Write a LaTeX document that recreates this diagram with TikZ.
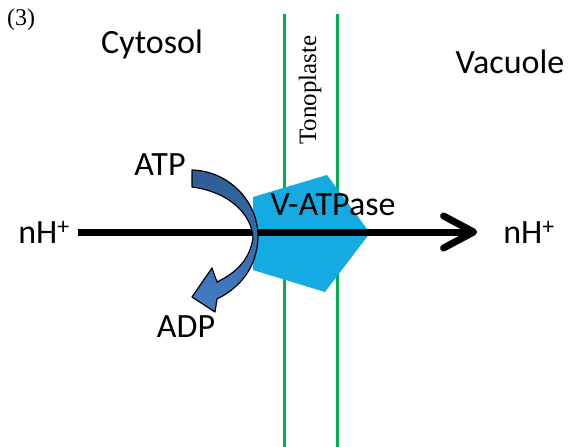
\documentclass[tikz,border=0pt]{standalone}
\usepackage{fontspec}
\setmainfont{Carlito}
\newfontfamily\timesfont{Liberation Serif}
\usetikzlibrary{arrows.meta,positioning}
\definecolor{membranegreen}{RGB}{0,176,80}
\definecolor{pumpblue}{RGB}{22,170,226}
\definecolor{arrowdark}{RGB}{46,92,148}
\definecolor{arrowlight}{RGB}{68,124,196}
\tikzset{
  side label/.style={font=\fontsize{34}{40}\selectfont,inner sep=0pt},
  serif label/.style={font=\timesfont\fontsize{24}{28}\selectfont,inner sep=0pt},
  membrane/.style={membranegreen,line width=3pt,line cap=butt},
  proton flux/.style={line width=7pt,line cap=butt,
    -{Straight Barb[length=30pt,width=32pt,line cap=round,line join=round]}},
  atp arrow/.style={draw=black,line width=1.2pt,top color=arrowdark,bottom color=arrowlight}
}

\begin{document}
\begin{tikzpicture}[x=1pt,y=-1pt,line cap=round,line join=round]
  \useasboundingbox (0,0) rectangle (568,447);
  % tonoplast membrane
  \coordinate (m1top) at (284,14);
  \coordinate (m1bot) at (284,447);
  \coordinate (m2top) at (337,14);
  \coordinate (m2bot) at (337,447);
  \draw[membrane] (m1top)--(m1bot) (m2top)--(m2bot);

  % pump
  \coordinate (p1) at (253,197);
  \coordinate (p2) at (327,175);
  \coordinate (p3) at (370,233);
  \coordinate (p4) at (325,292);
  \coordinate (p5) at (253,270);
  \fill[pumpblue] (p1)--(p2)--(p3)--(p4)--(p5)--cycle;

  \node[serif label] (fig) at (21,20) {(3)};
  \node[side label] (cyto) at (152,44) {Cytosol};
  \node[side label] (vac) at (510,62) {Vacuole};
  \node[serif label,font=\timesfont\fontsize{25}{30}\selectfont,rotate=90] (tono) at (310,90) {Tonoplaste};
  \node[side label] (vatp) at (333,205) {V-ATPase};
  \node[side label] (nhin) at (44,232) {nH\textsuperscript{+}};
  \node[side label] (nhout) at (529,232) {nH\textsuperscript{+}};
  \node[side label] (atp) at (160,165) {ATP};
  \node[side label] (adp) at (186,327) {ADP};

  \draw[proton flux,shorten <=8pt,shorten >=26pt] (nhin.east)--(nhout.west);

  % ATP -> ADP
  \draw[atp arrow] (192,170) .. controls (228,171) and (257,200) .. (258,235)
    .. controls (258,262) and (245,285) .. (217,299)
    -- (215,312) -- (192,297) -- (212,268) -- (217,282)
    .. controls (238,272) and (250,258) .. (253,238)
    .. controls (252,215) and (230,192) .. (192,187) -- cycle;
\end{tikzpicture}
\end{document}
